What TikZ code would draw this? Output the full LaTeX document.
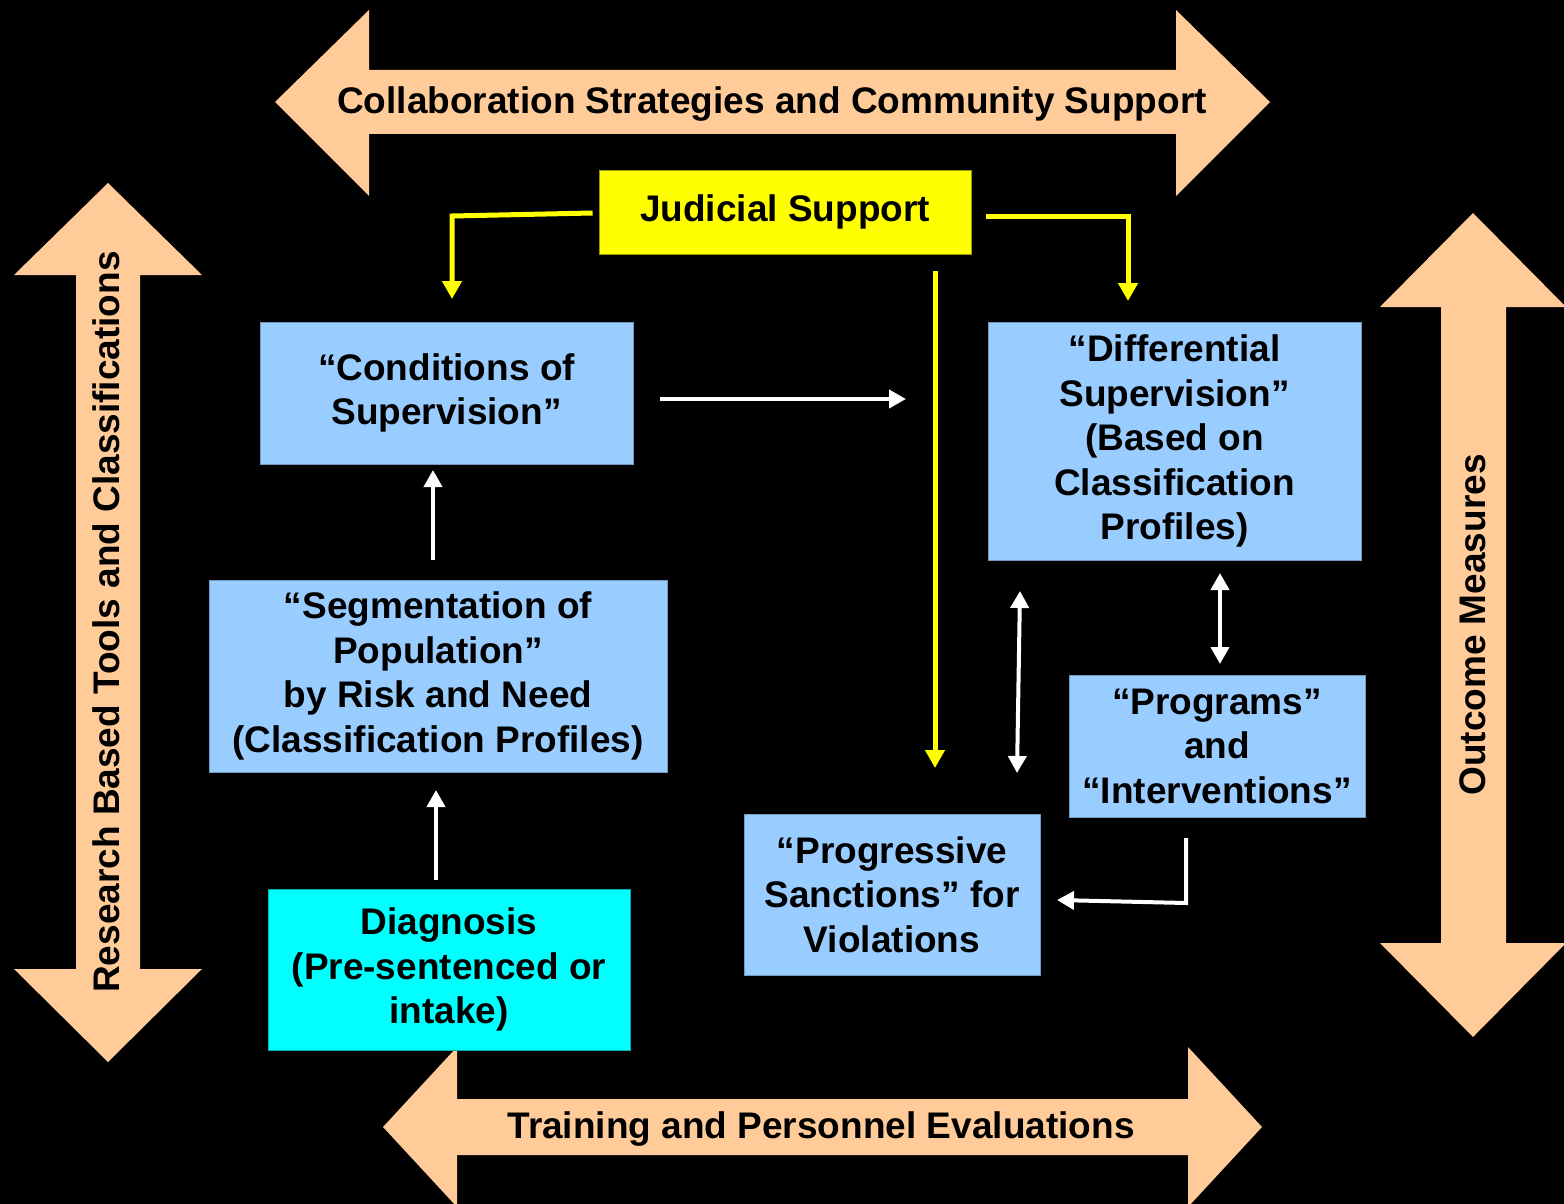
\documentclass[tikz,border=0pt]{standalone}
\usepackage{fontspec}
\setmainfont{Liberation Sans}
\usetikzlibrary{arrows.meta}
\definecolor{peach}{HTML}{FFCC99}
\definecolor{lblue}{HTML}{99CCFF}
\definecolor{cyanbox}{HTML}{00FFFF}
\definecolor{ybox}{HTML}{FFFF00}
\begin{document}
\begin{tikzpicture}[x=1pt,y=-1pt,
  txt/.style={font=\fontsize{37}{44.5}\selectfont\bfseries, text=black, inner sep=0pt, align=center},
  box/.style={txt, rectangle, fill=lblue, draw=lblue!75!black, line width=0.8pt},
  blockarrow/.style={fill=peach, draw=none},
  yarrow/.style={draw=ybox, line width=5pt, -{Triangle[length=18pt,width=19pt]}},
  warrow/.style={draw=white, line width=4pt, -{Triangle[length=17pt,width=18pt]}},
  wdarrow/.style={draw=white, line width=4pt, {Triangle[length=17pt,width=18pt]}-{Triangle[length=17pt,width=18pt]}}]
\fill[black] (0,0) rectangle (1564,1204);
\useasboundingbox (0,0) rectangle (1564,1204);

% block arrows
\fill[blockarrow] (275,102) -- (369,10) -- (369,70) -- (1176,70) -- (1176,10) -- (1270,102)
  -- (1176,196) -- (1176,134) -- (369,134) -- (369,196) -- cycle;
\fill[blockarrow] (383,1127) -- (457,1047) -- (457,1099) -- (1188,1099) -- (1188,1047) -- (1262,1127)
  -- (1188,1207) -- (1188,1155) -- (457,1155) -- (457,1207) -- cycle;
\fill[blockarrow] (108,183) -- (202,275) -- (140,275) -- (140,969) -- (202,969) -- (108,1062)
  -- (14,969) -- (76,969) -- (76,275) -- (14,275) -- cycle;
\fill[blockarrow] (1473,213) -- (1566,307) -- (1506,307) -- (1506,943) -- (1566,943) -- (1473,1037)
  -- (1380,943) -- (1441,943) -- (1441,307) -- (1380,307) -- cycle;

\node[txt] (tcollab) at (772,104) {Collaboration Strategies and Community Support};
\node[txt] (ttrain) at (821,1129) {Training and Personnel Evaluations};
\node[txt, rotate=90] (tresearch) at (106,622) {Research Based Tools and Classifications};
\node[txt, rotate=90] (toutcome) at (1473,625) {Outcome Measures};

% boxes
\node[box, fill=ybox, draw=ybox!60!black, minimum width=372pt, minimum height=84pt] (jud) at (785,212) {Judicial Support};
\node[box, minimum width=373pt, minimum height=142pt] (cond) at (446.5,393) {“Conditions of\\Supervision”};
\node[box, minimum width=373pt, minimum height=238pt] (diff) at (1174.5,441) {“Differential\\Supervision”\\(Based on\\Classification\\Profiles)};
\node[box, minimum width=458pt, minimum height=192pt] (seg) at (438,676) {“Segmentation of\\Population”\\by Risk and Need\\(Classification Profiles)};
\node[box, minimum width=296pt, minimum height=142pt] (prog) at (1217,746) {“Programs”\\and\\“Interventions”};
\node[box, minimum width=296pt, minimum height=161pt] (sanc) at (892,894.5) {“Progressive\\Sanctions” for\\Violations};
\node[box, fill=cyanbox, draw=cyanbox!70!black, minimum width=362pt, minimum height=161pt] (diag) at (449,969.5) {Diagnosis\\(Pre-sentenced or\\intake)};

% connector ends
\coordinate (ylt) at (452,299);
\coordinate (yrt) at (1128,301);
\coordinate (yv0) at (935,271);
\coordinate (yv1) at (935,768);
\coordinate (w1a) at (660,399);
\coordinate (w1b) at (906,399);
\coordinate (w2a) at (433,560);
\coordinate (w2b) at (433,470);
\coordinate (w3a) at (436,880);
\coordinate (w3b) at (436,790);
\coordinate (w4a) at (1220,573);
\coordinate (w4b) at (1220,664);
\coordinate (w5a) at (1020,591);
\coordinate (w5b) at (1017,773);
\coordinate (w6a) at (1186,838);
\coordinate (w6b) at (1057,900);

% connectors
\draw[yarrow] ([xshift=-6pt,yshift=-1pt]jud.west) -- (452,216) -- (ylt);
\draw[yarrow] ([xshift=15pt,yshift=-4pt]jud.east) -- (1128,216) -- (yrt);
\draw[yarrow] (yv0) -- (yv1);
\draw[warrow] (w1a) -- (w1b);
\draw[warrow] (w2a) -- (w2b);
\draw[warrow] (w3a) -- (w3b);
\draw[wdarrow] (w4a) -- (w4b);
\draw[wdarrow] (w5a) -- (w5b);
\draw[warrow] (w6a) -- (1186,903) -- (w6b);
\end{tikzpicture}
\end{document}
